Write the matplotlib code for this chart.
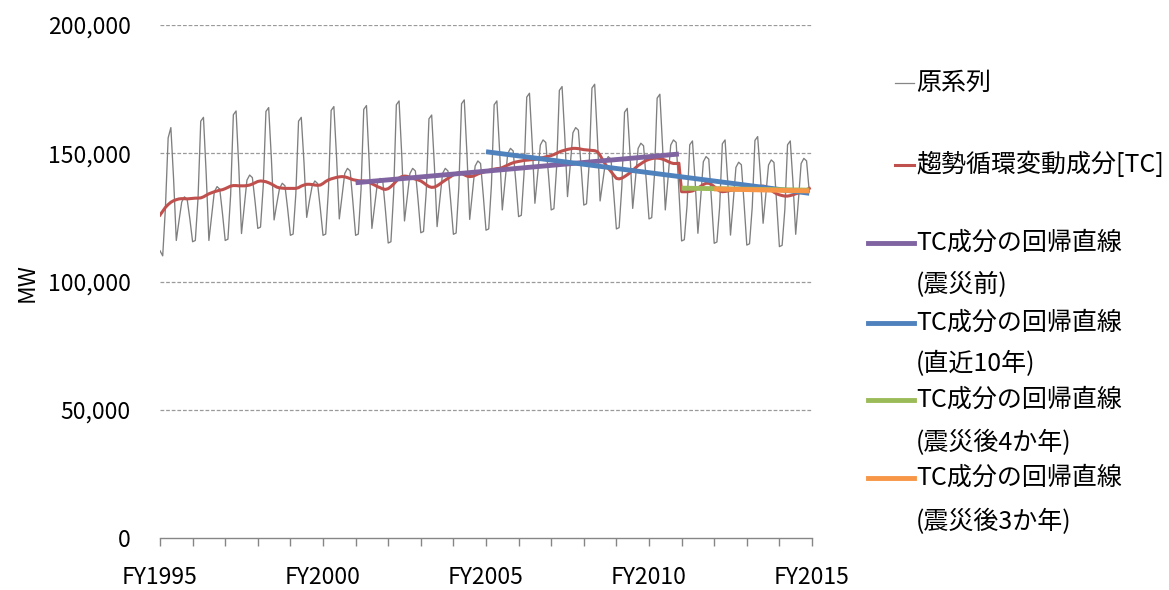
import numpy as np
import matplotlib
matplotlib.use("Agg")
import matplotlib.pyplot as plt
from matplotlib.lines import Line2D
from matplotlib.ticker import FuncFormatter, MultipleLocator

plt.rcParams['font.family'] = ['Noto Sans CJK JP', 'DejaVu Sans']

# 月次最大電力 [千MW], FY1995年4月 〜 FY2014年3月 (各行 4月→翌3月)
original_kmw = [
    112.0, 110.0, 128.8, 156.0, 160.0, 140.0, 116.0, 123.7, 131.0, 133.0, 132.0, 124.3,  # FY1995
    115.5, 116.0, 132.5, 162.5, 164.0, 142.0, 116.0, 125.5, 135.0, 137.0, 136.0, 126.5,  # FY1996
    116.0, 116.5, 133.7, 165.0, 166.5, 144.6, 118.7, 129.0, 139.5, 141.5, 140.5, 131.1,  # FY1997
    120.7, 121.2, 137.2, 166.3, 167.8, 147.9, 124.0, 130.4, 136.3, 138.3, 137.3, 128.2,  # FY1998
    118.0, 118.5, 134.1, 162.5, 164.0, 146.5, 125.0, 131.4, 137.2, 139.2, 138.2, 128.6,  # FY1999
    118.0, 118.5, 135.6, 166.7, 168.2, 148.3, 124.4, 133.3, 142.1, 144.1, 143.1, 131.0,  # FY2000
    118.0, 118.5, 135.7, 167.1, 168.6, 146.7, 120.7, 129.5, 138.2, 140.2, 139.2, 127.6,  # FY2001
    115.0, 115.5, 134.4, 168.9, 170.4, 149.0, 123.6, 132.8, 142.1, 144.1, 143.1, 131.6,  # FY2002
    119.0, 119.5, 135.1, 163.4, 164.9, 145.2, 121.4, 131.6, 142.1, 144.1, 143.1, 131.3,  # FY2003
    118.4, 118.9, 136.7, 169.3, 170.8, 149.5, 124.2, 134.5, 145.0, 147.0, 146.0, 133.5,  # FY2004
    120.0, 120.5, 137.6, 168.9, 170.4, 151.2, 127.9, 138.7, 149.9, 151.9, 150.9, 138.6,  # FY2005
    125.3, 125.8, 142.1, 171.9, 173.4, 154.0, 130.5, 141.6, 153.2, 155.2, 154.2, 141.6,  # FY2006
    127.9, 128.4, 144.7, 174.5, 176.0, 156.6, 133.1, 145.2, 158.0, 160.0, 159.0, 144.9,  # FY2007
    129.8, 130.3, 146.3, 175.4, 176.9, 156.2, 131.4, 139.2, 146.7, 148.7, 147.7, 134.6,  # FY2008
    120.5, 121.0, 137.0, 166.0, 167.5, 150.0, 128.5, 139.9, 151.9, 153.9, 152.9, 139.2,  # FY2009
    124.4, 124.9, 141.4, 171.5, 173.0, 152.5, 127.9, 140.2, 153.2, 155.2, 154.2, 135.5,  # FY2010
    115.8, 116.3, 129.5, 153.3, 154.8, 138.8, 118.8, 132.3, 146.7, 148.7, 147.7, 131.8,  # FY2011
    114.9, 115.4, 129.0, 153.7, 155.2, 138.7, 118.1, 130.9, 144.5, 146.5, 145.5, 130.4,  # FY2012
    114.2, 114.7, 129.0, 155.0, 156.5, 141.6, 122.7, 133.8, 145.4, 147.4, 146.4, 130.5,  # FY2013
    113.6, 114.1, 128.0, 153.3, 154.8, 138.6, 118.4, 131.7, 146.0, 148.0, 147.0, 135.0,  # FY2014
]

# 趨勢循環変動成分 [千MW]
trend_kmw = [
    125.9, 127.4, 128.9, 130.0, 130.9, 131.5, 131.9, 132.2, 132.3, 132.3, 132.2, 132.3,
    132.4, 132.5, 132.5, 132.6, 133.0, 133.6, 134.2, 134.6, 135.0, 135.3, 135.6, 135.8,
    136.2, 136.7, 137.2, 137.4, 137.4, 137.3, 137.3, 137.3, 137.4, 137.6, 138.0, 138.5,
    139.0, 139.2, 139.1, 138.9, 138.5, 138.0, 137.4, 136.8, 136.5, 136.4, 136.3, 136.3,
    136.3, 136.3, 136.3, 136.6, 137.2, 137.6, 137.9, 137.9, 137.8, 137.6, 137.5, 137.6,
    138.2, 139.0, 139.6, 140.0, 140.3, 140.6, 140.8, 140.9, 140.8, 140.5, 140.1, 139.7,
    139.5, 139.3, 139.2, 139.2, 139.0, 138.6, 138.1, 137.6, 137.0, 136.6, 136.1, 135.9,
    136.2, 137.0, 138.0, 139.2, 140.3, 140.9, 141.1, 141.0, 140.6, 140.2, 139.9, 139.6,
    139.2, 138.5, 137.7, 137.0, 136.7, 136.8, 137.3, 138.0, 138.8, 139.5, 140.2, 140.9,
    141.6, 142.1, 142.4, 142.2, 141.6, 141.1, 140.9, 141.0, 141.4, 141.9, 142.3, 142.6,
    143.0, 143.3, 143.6, 143.8, 144.0, 144.1, 144.4, 144.9, 145.4, 145.9, 146.3, 146.6,
    146.8, 147.0, 147.2, 147.3, 147.4, 147.5, 147.6, 147.8, 148.1, 148.3, 148.6, 148.8,
    149.1, 149.5, 150.0, 150.5, 150.9, 151.2, 151.5, 151.7, 151.9, 151.9, 151.8, 151.6,
    151.4, 151.3, 151.2, 151.1, 151.0, 150.6, 149.2, 147.3, 145.6, 144.2, 142.9, 141.5,
    140.2, 140.0, 140.3, 140.9, 141.6, 142.4, 143.3, 144.3, 145.2, 145.9, 146.6, 147.2,
    147.6, 147.9, 148.1, 148.1, 148.0, 147.7, 147.3, 146.8, 146.3, 146.0, 146.0, 146.1,
    135.0, 135.0, 135.0, 135.1, 135.3, 135.8, 136.4, 137.1, 137.8, 138.3, 138.3, 137.8,
    137.0, 136.0, 135.3, 135.0, 135.1, 135.3, 135.5, 135.7, 135.8, 135.8, 135.8, 135.9,
    135.9, 135.9, 136.1, 136.4, 136.8, 137.1, 137.2, 137.0, 136.4, 135.6, 134.8, 134.2,
    133.8, 133.5, 133.3, 133.3, 133.5, 133.8, 134.2, 134.5, 134.8, 135.3, 135.8, 136.3,
]

# 回帰直線: (開始月index, 終了月index), (開始値, 終了値) [千MW]
reg_pre_idx, reg_pre_val = (72, 191), (138.5, 149.7)      # 震災前
reg_10y_idx, reg_10y_val = (120, 239), (150.6, 134.4)     # 直近10年
reg_4y_idx, reg_4y_val = (192, 239), (136.4, 135.6)       # 震災後4か年
reg_3y_idx, reg_3y_val = (204, 239), (136.1, 135.3)       # 震災後3か年

fy_start = 1995
c_gray, c_red, c_purple = '#868686', '#C0504D', '#8064A2'
c_blue, c_green, c_orange = '#4F81BD', '#9BBB59', '#F79646'

original = np.array(original_kmw) * 1000
trend = np.array(trend_kmw) * 1000
months = fy_start + np.arange(len(original)) / 12.0


def reg_line(idx, val):
    x = [fy_start + idx[0] / 12.0, fy_start + idx[1] / 12.0]
    return x, [val[0] * 1000, val[1] * 1000]


W, H = 1169, 590
fig = plt.figure(figsize=(W / 100, H / 100), dpi=100)
ax = fig.add_axes([160 / W, 1 - 538 / H, 652 / W, 513 / H])

ax.plot(months, original, color='#7f7f7f', lw=0.95, zorder=3)
ax.plot(months, trend, color=c_red, lw=2.2, zorder=4)
for (idx, val), col in [((reg_pre_idx, reg_pre_val), c_purple),
                        ((reg_10y_idx, reg_10y_val), c_blue),
                        ((reg_4y_idx, reg_4y_val), c_green),
                        ((reg_3y_idx, reg_3y_val), c_orange)]:
    xs, ys = reg_line(idx, val)
    ax.plot(xs, ys, color=col, lw=3.5, solid_capstyle='butt', zorder=5)

ax.set_xlim(1995, 2015)
ax.set_ylim(0, 200000)
ax.yaxis.set_major_locator(MultipleLocator(50000))
ax.yaxis.set_major_formatter(FuncFormatter(lambda v, p: f'{int(v):,}'))
ax.xaxis.set_major_locator(MultipleLocator(5))
ax.xaxis.set_minor_locator(MultipleLocator(1))
ax.xaxis.set_major_formatter(FuncFormatter(lambda v, p: f'FY{int(round(v))}'))

for v in [50000, 100000, 150000, 200000]:
    ax.axhline(v, color='#9a9a9a', lw=0.9, ls=(0, (3, 1.5)), zorder=1)

for s in ['top', 'right', 'left']:
    ax.spines[s].set_visible(False)
ax.spines['bottom'].set_color(c_gray)
ax.spines['bottom'].set_linewidth(1.0)

ax.tick_params(axis='y', length=0, pad=21, labelsize=16.5)
ax.tick_params(axis='x', which='both', direction='out', length=6,
               color=c_gray, width=1.0)
ax.tick_params(axis='x', which='major', pad=14, labelsize=16.5)

fig.text(27 / W, 1 - 283 / H, 'MW', rotation=90, fontsize=16.5,
         ha='center', va='center')

# 凡例
legend_rows = [
    (83, None, '原系列', c_gray, 0.9, 895),
    (165, None, '趨勢循環変動成分[TC]', c_red, 2.2, 895),
    (243, 285, '(震災前)', c_purple, 3.5, 868),
    (323, 364, '(直近10年)', c_blue, 3.5, 868),
    (400, 443, '(震災後4か年)', c_green, 3.5, 868),
    (478, 522, '(震災後3か年)', c_orange, 3.5, 868),
]
for y1, y2, sub, col, lw, x0 in legend_rows:
    fig.add_artist(Line2D([x0 / W, 914 / W], [1 - y1 / H, 1 - y1 / H],
                          color=col, lw=lw, transform=fig.transFigure))
    first = sub if y2 is None else 'TC成分の回帰直線'
    fig.text(916 / W, 1 - y1 / H, first, fontsize=18, ha='left', va='center')
    if y2 is not None:
        fig.text(916 / W, 1 - y2 / H, sub, fontsize=18, ha='left', va='center')

fig.savefig('out.png', dpi=100)
